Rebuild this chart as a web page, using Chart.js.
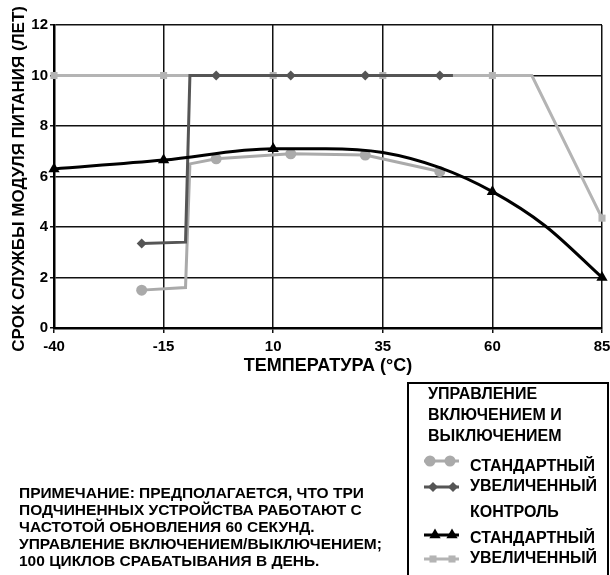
<!DOCTYPE html>
<html>
<head>
<meta charset="utf-8">
<script src="https://cdn.jsdelivr.net/npm/chart.js@4/dist/chart.umd.min.js"></script>
<style>
  html, body { margin: 0; padding: 0; background: #fff; }
  #wrap { position: relative; width: 610px; height: 575px; overflow: hidden; }
  #chart { position: absolute; left: 0; top: 0; }
  .txt { position: absolute; font-family: "Liberation Sans", Arial, sans-serif; font-weight: bold; font-size: 16px; color: #000; white-space: nowrap; line-height: 18px; }
  #legendBox { position: absolute; left: 407px; top: 382px; width: 198px; height: 200px; border: 2px solid #000; }
</style>
</head>
<body>
<div id="wrap">
  <canvas id="chart" width="610" height="575"></canvas>
  <div id="legendBox"></div>
  <div class="txt" style="left:428px; top:383px; line-height:21px;">УПРАВЛЕНИЕ<br>ВКЛЮЧЕНИЕМ И<br>ВЫКЛЮЧЕНИЕМ</div>
  <div class="txt" style="left:470px; top:457px;">СТАНДАРТНЫЙ</div>
  <div class="txt" style="left:470px; top:477px;">УВЕЛИЧЕННЫЙ</div>
  <div class="txt" style="left:470px; top:503px;">КОНТРОЛЬ</div>
  <div class="txt" style="left:470px; top:529px;">СТАНДАРТНЫЙ</div>
  <div class="txt" style="left:470px; top:549px;">УВЕЛИЧЕННЫЙ</div>
  <div class="txt" style="left:19px; top:484px; font-size:15.5px; line-height:17px;">ПРИМЕЧАНИЕ: ПРЕДПОЛАГАЕТСЯ, ЧТО ТРИ<br>ПОДЧИНЕННЫХ УСТРОЙСТВА РАБОТАЮТ С<br>ЧАСТОТОЙ ОБНОВЛЕНИЯ 60 СЕКУНД.<br>УПРАВЛЕНИЕ ВКЛЮЧЕНИЕМ/ВЫКЛЮЧЕНИЕМ;<br>100 ЦИКЛОВ СРАБАТЫВАНИЯ В ДЕНЬ.</div>
</div>
<script>
// Управление вкл/выкл - стандартный (серые круги)
const onoffStdX = [-20, -10, -9, -3, 14, 31, 48];
const onoffStdY = [1.5, 1.6, 6.5, 6.7, 6.9, 6.85, 6.2];
const onoffStdMark = [1, 0, 0, 1, 1, 1, 1];

// Управление вкл/выкл - увеличенный (ромбы)
const onoffExtX = [-20, -10, -9, -3, 14, 31, 48, 51];
const onoffExtY = [3.35, 3.4, 10, 10, 10, 10, 10, 10];
const onoffExtMark = [1, 0, 0, 1, 1, 1, 1, 0];

// Контроль - стандартный (треугольники)
const ctrlStdX = [-40, -15, 10, 22, 35, 48, 60, 72, 85];
const ctrlStdY = [6.3, 6.65, 7.1, 7.1, 6.95, 6.35, 5.4, 4.05, 2.0];
const ctrlStdMark = [1, 1, 1, 0, 0, 0, 1, 0, 1];

// Контроль - увеличенный (квадраты)
const ctrlExtX = [-40, -15, 10, 35, 60, 69, 85];
const ctrlExtY = [10, 10, 10, 10, 10, 10, 4.35];
const ctrlExtMark = [1, 1, 1, 1, 1, 0, 1];

const xTicks = [-40, -15, 10, 35, 60, 85];
const yTicks = [0, 2, 4, 6, 8, 10, 12];

const FONT = '"Liberation Sans", Arial, sans-serif';

function pts(xs, ys) {
    return xs.map((x, i) => ({ x: x, y: ys[i] }));
}

function makeSet(xs, ys, marks, color, style, radius, order, tension) {
    return {
        data: pts(xs, ys),
        borderColor: color,
        backgroundColor: color,
        borderWidth: 3,
        pointStyle: style,
        pointRadius: marks.map(m => m ? radius : 0),
        pointBorderWidth: 0,
        showLine: true,
        clip: false,
        tension: tension || 0,
        cubicInterpolationMode: tension ? 'monotone' : 'default',
        order: order
    };
}

// образцы в легенде
const legendSamples = {
    id: 'legendSamples',
    afterDraw(chart) {
        const ctx = chart.ctx;
        const items = [
            { y: 461, color: '#aaaaaa', style: 'circle', r: 5.5, xs: [430, 450] },
            { y: 487, color: '#555555', style: 'rectRot', r: 5, xs: [433, 453] },
            { y: 535, color: '#000000', style: 'triangle', r: 6.5, xs: [435, 452] },
            { y: 559, color: '#b4b4b4', style: 'rect', r: 5, xs: [433, 452] }
        ];
        items.forEach(it => {
            ctx.save();
            ctx.strokeStyle = it.color;
            ctx.fillStyle = it.color;
            ctx.lineWidth = 3;
            ctx.beginPath();
            ctx.moveTo(424, it.y);
            ctx.lineTo(459, it.y);
            ctx.stroke();
            it.xs.forEach(x => {
                Chart.helpers.drawPoint(ctx, { pointStyle: it.style, radius: it.r, borderWidth: 0 }, x, it.y);
            });
            ctx.restore();
        });
    }
};

new Chart(document.getElementById('chart'), {
    type: 'scatter',
    data: {
        datasets: [
            makeSet(ctrlStdX, ctrlStdY, ctrlStdMark, '#000000', 'triangle', 6.5, 0, 0.4),
            makeSet(onoffExtX, onoffExtY, onoffExtMark, '#555555', 'rectRot', 5, 1),
            makeSet(onoffStdX, onoffStdY, onoffStdMark, '#aaaaaa', 'circle', 5.5, 2),
            makeSet(ctrlExtX, ctrlExtY, ctrlExtMark, '#b4b4b4', 'rect', 5, 3)
        ]
    },
    options: {
        responsive: false,
        animation: false,
        layout: { padding: { left: 0, right: 8, top: 25, bottom: 198 } },
        plugins: {
            legend: { display: false },
            tooltip: { enabled: false }
        },
        scales: {
            x: {
                type: 'linear',
                min: -40,
                max: 85,
                afterBuildTicks: s => { s.ticks = xTicks.map(v => ({ value: v })); },
                afterFit: s => { s.height = 49; s.paddingLeft = 0; s.paddingRight = 0; },
                grid: { color: '#111', lineWidth: 1.5, drawTicks: true, tickLength: 5 },
                border: { color: '#000', width: 2.5 },
                ticks: { color: '#000', padding: 5, maxRotation: 0, font: { family: FONT, size: 15, weight: 'bold' } },
                title: { display: true, text: 'ТЕМПЕРАТУРА (°C)', color: '#000', padding: { top: 0, bottom: 0 }, font: { family: FONT, size: 18, weight: 'bold' } }
            },
            y: {
                min: 0,
                max: 12,
                afterBuildTicks: s => { s.ticks = yTicks.map(v => ({ value: v })); },
                afterFit: s => { s.width = 54; s.paddingTop = 0; s.paddingBottom = 0; },
                grid: { color: '#111', lineWidth: 1.5, drawTicks: true, tickLength: 4 },
                border: { color: '#000', width: 2.5 },
                ticks: { color: '#000', padding: 2, font: { family: FONT, size: 15, weight: 'bold' } },
                title: { display: true, text: 'СРОК СЛУЖБЫ МОДУЛЯ ПИТАНИЯ (ЛЕТ) ', color: '#000', padding: { top: 9, bottom: 0 }, font: { family: FONT, size: 17, weight: 'bold' } }
            }
        }
    },
    plugins: [legendSamples]
});
</script>
</body>
</html>
